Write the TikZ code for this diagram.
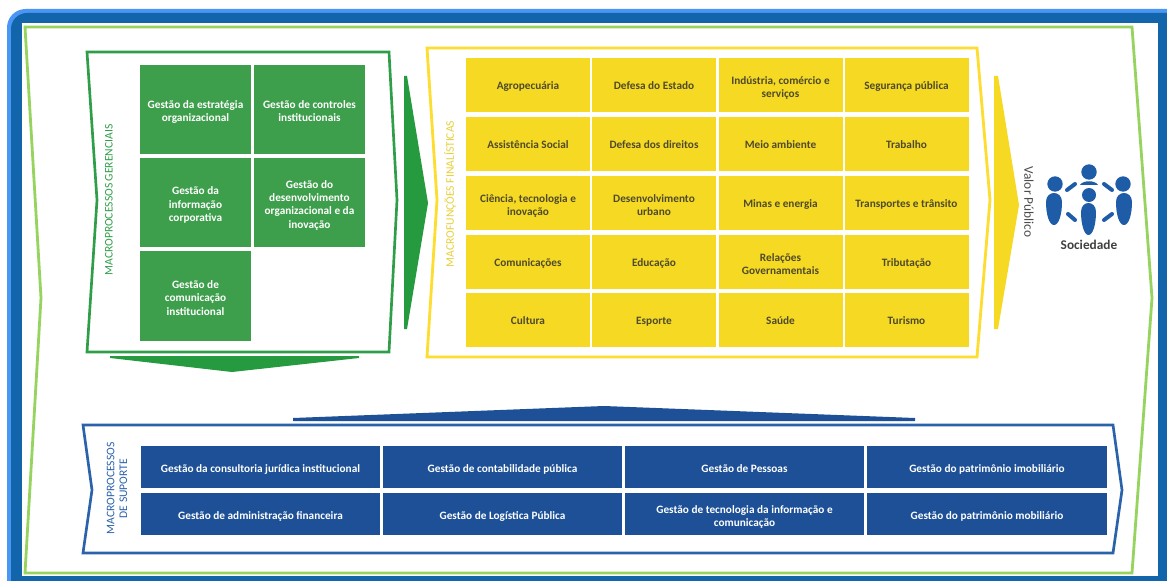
\documentclass[tikz,border=0pt]{standalone}
\usepackage{fontspec}
\setmainfont{Carlito}
\definecolor{outerblue}{HTML}{1265AB}
\definecolor{lightblue}{HTML}{4A96F5}
\definecolor{chevgreen}{HTML}{97D45F}
\definecolor{framegreen}{HTML}{2F9E48}
\definecolor{cellgreen}{HTML}{3D9F4B}
\definecolor{arrowgreen}{HTML}{259A3E}
\definecolor{frameyellow}{HTML}{FDDD2F}
\definecolor{cellyellow}{HTML}{F5D923}
\definecolor{cellblue}{HTML}{1D5096}
\definecolor{frameblue}{HTML}{2A62AC}
\definecolor{iconblue}{HTML}{1F5CA8}
\definecolor{yellowtext}{HTML}{4F4A2A}
\definecolor{labelyellow}{HTML}{E8CF3A}
\newcommand{\linetop}{\rule{0pt}{10.5pt}}
\tikzset{
  x=0.75pt,y=-0.75pt,
  cell/.style={anchor=center,inner sep=0pt,outer sep=0pt,align=center,font=\fontsize{8.45}{10}\selectfont\bfseries,execute at begin node={\rule{0pt}{8.3pt}},execute at end node={\rule[-2pt]{0pt}{2pt}}},
  gcell/.style={cell,fill=cellgreen,text=white,minimum width=83.25pt,minimum height=67pt},
  ycell/.style={cell,fill=cellyellow,text=yellowtext,minimum width=93pt,minimum height=40.5pt},
  bcell/.style={cell,fill=cellblue,text=white,minimum width=179.5pt,minimum height=31.5pt,execute at begin node={\rule{0pt}{9.8pt}}},
  sidelabel/.style={inner sep=0pt,align=center,rotate=90,font=\fontsize{8.7}{9.5}\selectfont},
  iconbody/.style={fill=iconblue,draw=none},
  icondash/.style={draw=iconblue,line width=3pt,line cap=round},
}
\begin{document}
\begin{tikzpicture}
\useasboundingbox (0,0) rectangle (1167,581);
\fill[white] (0,0) rectangle (1167,581);
\begin{scope}
\clip (0,0) rectangle (1167,581);
\fill[lightblue,rounded corners=14pt] (7,9) rectangle (1190,600);
\fill[outerblue,rounded corners=12pt] (11,13) rectangle (1190,600);
\fill[lightblue] (7,30) rectangle (11,570);
\fill[white] (22,23) rectangle (1158,576);
\end{scope}
% outer chevron
\draw[chevgreen,line width=2.1pt,miter limit=10] (25,27) -- (1132,27) -- (1152,298) -- (1132,573) -- (25,573) -- (41,298) -- cycle;
% frames
\draw[framegreen,line width=2pt] (87,52) -- (389,52) -- (397,200) -- (389,352) -- (87,352) -- (97,200) -- cycle;
\draw[frameyellow,line width=2.1pt] (427,48) -- (977,48) -- (990,200) -- (977,357) -- (427,357) -- (437,200) -- cycle;
\draw[frameblue,line width=2pt] (83,425) -- (1113,425) -- (1122,490) -- (1113,553) -- (83,553) -- (92,490) -- cycle;
% arrows
\fill[arrowgreen] (404,76) -- (407,76) -- (428,203) -- (407,329) -- (404,329) -- cycle;
\fill[cellyellow] (994,76) -- (998,76) -- (1019,205) -- (998,329) -- (994,329) -- cycle;
\fill[arrowgreen] (110,356) -- (359,356) -- (359,358) -- (232,372) -- (110,358) -- cycle;
\fill[cellblue] (293,418) -- (604,406) -- (915,418) -- (915,421) -- (293,421) -- cycle;
% green cells
\node[gcell] (g1) at (195.5,109.5) {\linetop Gestão da estratégia\\organizacional};
\node[gcell] (g2) at (309.5,109.5) {\linetop Gestão de controles\\institucionais};
\node[gcell] (g3) at (195.5,202.5) {\linetop Gestão da\\informação\\corporativa};
\node[gcell] (g4) at (309.5,202.5) {\linetop Gestão do\\desenvolvimento\\organizacional e da\\inovação};
\node[gcell] (g5) at (195.5,296) {\linetop Gestão de\\comunicação\\institucional};
% yellow cells
\node[ycell] (y11) at (528,85.5) {Agropecuária};
\node[ycell] (y12) at (654,85.5) {Defesa do Estado};
\node[ycell] (y13) at (780.5,85.5) {\linetop Indústria, comércio e\\serviços};
\node[ycell] (y14) at (906.5,85.5) {Segurança pública};
\node[ycell] (y21) at (528,144) {Assistência Social};
\node[ycell] (y22) at (654,144) {Defesa dos direitos};
\node[ycell] (y23) at (780.5,144) {Meio ambiente};
\node[ycell] (y24) at (906.5,144) {Trabalho};
\node[ycell] (y31) at (528,203) {\linetop Ciência, tecnologia e\\inovação};
\node[ycell] (y32) at (654,203) {\linetop Desenvolvimento\\urbano};
\node[ycell] (y33) at (780.5,203) {Minas e energia};
\node[ycell] (y34) at (906.5,203) {Transportes e trânsito};
\node[ycell] (y41) at (528,262) {Comunicações};
\node[ycell] (y42) at (654,262) {Educação};
\node[ycell] (y43) at (780.5,262) {\linetop Relações\\Governamentais};
\node[ycell] (y44) at (906.5,262) {Tributação};
\node[ycell] (y51) at (528,320) {Cultura};
\node[ycell] (y52) at (654,320) {Esporte};
\node[ycell] (y53) at (780.5,320) {Saúde};
\node[ycell] (y54) at (906.5,320) {Turismo};
% blue cells
\node[bcell] (b11) at (260.5,467) {Gestão da consultoria jurídica institucional};
\node[bcell] (b12) at (502.5,467) {Gestão de contabilidade pública};
\node[bcell] (b13) at (744.5,467) {Gestão de Pessoas};
\node[bcell] (b14) at (987,467) {Gestão do patrimônio imobiliário};
\node[bcell] (b21) at (260.5,514) {Gestão de administração financeira};
\node[bcell] (b22) at (502.5,514) {Gestão de Logística Pública};
\node[bcell] (b23) at (744.5,514) {\linetop Gestão de tecnologia da informação e\\comunicação};
\node[bcell] (b24) at (987,514) {Gestão do patrimônio mobiliário};
% side labels
\node[sidelabel,text=framegreen] (lg) at (109,200) {MACROPROCESSOS GERENCIAIS};
\node[sidelabel,text=labelyellow] (ly) at (450,194) {MACROFUNÇÕES FINALÍSTICAS};
\node[sidelabel,text=frameblue] (lb) at (117,488.5) {MACROPROCESSOS\\DE SUPORTE};
\node[inner sep=0pt,rotate=-90,text=black!70,font=\fontsize{10}{11}\selectfont] (vp) at (1029,202) {Valor Público};
% icon
\fill[iconbody] (1089,172) circle (7.7);
\fill[iconbody] (1089,195) circle (7);
\fill[iconbody] (1055,184) circle (7.7);
\fill[iconbody] (1123,184) circle (7.7);
\fill[iconbody] (1080,185) .. controls (1083,180) and (1095,180) .. (1098,185) -- cycle;
\fill[iconbody] (1046,202) .. controls (1046,190) and (1062,190) .. (1062,202) .. controls (1062,214) and (1059,225) .. (1054,225) .. controls (1049,225) and (1046,214) .. (1046,202) -- cycle;
\fill[iconbody] (1116,202) .. controls (1116,190) and (1132,190) .. (1132,202) .. controls (1132,214) and (1129,225) .. (1124,225) .. controls (1119,225) and (1116,214) .. (1116,202) -- cycle;
\fill[iconbody] (1081,212) .. controls (1081,200) and (1096,200) .. (1096,212) .. controls (1096,224) and (1093,235) .. (1088.5,235) .. controls (1084,235) and (1081,224) .. (1081,212) -- cycle;
\draw[icondash] (1067,190) -- (1075,184);
\draw[icondash] (1104,184) -- (1112,190);
\draw[icondash] (1068,214) -- (1075,220);
\draw[icondash] (1104,220) -- (1112,214);
\node[inner sep=0pt,text=black!75,font=\fontsize{10}{11}\selectfont\bfseries] (soc) at (1089,245) {Sociedade};
\end{tikzpicture}
\end{document}
